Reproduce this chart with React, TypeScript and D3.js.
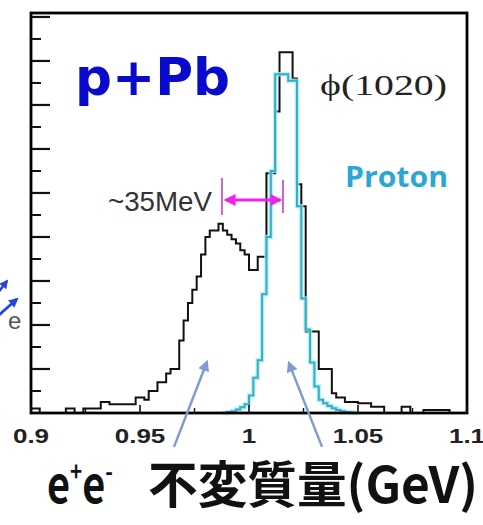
import React from "react";
import * as d3 from "d3";

// Invariant-mass histogram, 2 MeV bins from 0.9 to 1.1 GeV
const massMin = 0.9;
const massMax = 1.1;
const binWidth = 0.002;

// p+Pb e+e- counts per bin (100 bins)
const pPbCounts = [
  1, 1, 0, 0, 0, 0, 0, 0, 1, 1,
  0, 0, 1, 1, 1, 1, 2.5, 2.5, 2, 2,
  2, 2, 2, 2, 3.5, 3.5, 3, 5, 5, 7,
  7, 9, 10, 10, 16.5, 21, 25, 28, 31, 36,
  40, 41.5, 41.5, 43, 41.5, 40.5, 39.5, 38.5, 37, 36,
  32.5, 32.5, 35.5, 35.5, 54.5, 54.5, 68.5, 82, 82, 82,
  76, 52, 47, 18.5, 18.5, 18.5, 10, 10, 10, 4.5,
  3.5, 3.5, 2.5, 2.5, 2.5, 2.2, 2.2, 2.2, 1.4, 1.4,
  1.4, 0, 0, 0, 0, 1.4, 1.4, 0, 0, 0,
  0.7, 0.7, 0.7, 0.7, 0.7, 0.7, 0, 0, 0, 0,
];

// proton-reference phi(1020) shape, starting at bin index 44
const protonFirstBin = 44;
const protonCounts = [
  0, 0.2, 0.4, 0.8, 1.3, 2, 4, 8, 12, 27,
  40, 55, 77, 77, 77, 75.5, 75.5, 47, 26, 19,
  11.5, 6, 3, 2.2, 1.6, 1.1, 0.7, 0.4, 0.2, 0.1, 0,
];

const xTickValues = [0.9, 0.95, 1, 1.05, 1.1];
const xTickLabels = ["0.9", "0.95", "1", "1.05", "1.1"];
const xMinorTicks = [0.925, 0.975, 1.025, 1.075];
const yMajorTicks = [10, 20, 30, 40, 50, 60, 70, 80, 90];
const yMinorTicks = [5, 15, 25, 35, 45, 55, 65, 75, 85];
const yMax = 90.9;

// mass-shift annotation (GeV): nominal peak vs shifted peak
const shiftNominal = 1.0156;
const shiftShifted = 0.9876;
const shiftLevel = 48.4;
const shiftLabel = "~35MeV";

// pointer arrows: [tail mass, tail count, tip mass, tip count]
const pointerArrows = [
  [0.9656, -7.7, 0.9807, 11.6],
  [1.0335, -7.7, 1.0183, 11.4],
];

const W = 483;
const H = 525;
const plot = { left: 31, right: 467, top: 13, bottom: 413 };

function stepPoints(counts: number[], firstBin: number): [number, number][] {
  const pts: [number, number][] = [];
  const start = massMin + firstBin * binWidth;
  pts.push([start, 0]);
  counts.forEach((c, i) => {
    const x0 = start + i * binWidth;
    pts.push([x0, c]);
    pts.push([x0 + binWidth, c]);
  });
  pts.push([start + counts.length * binWidth, 0]);
  return pts;
}

export default function App() {
  const x = d3.scaleLinear().domain([massMin, massMax]).range([plot.left, plot.right]);
  const y = d3.scaleLinear().domain([0, yMax]).range([plot.bottom, plot.top]);
  const line = d3
    .line<[number, number]>()
    .x((d) => x(d[0]))
    .y((d) => y(d[1]));

  const pPbPath = line(stepPoints(pPbCounts, 0)) || "";
  const protonPath = line(stepPoints(protonCounts, protonFirstBin)) || "";

  const xs = x(shiftShifted);
  const xn = x(shiftNominal);
  const ys = y(shiftLevel);

  return (
    <svg
      width={W}
      height={H}
      viewBox={`0 0 ${W} ${H}`}
      style={{ position: "absolute", left: 0, top: 0, background: "#fff" }}
    >
      <defs>
        <marker id="headMag" viewBox="0 0 10 10" refX="8" refY="5" markerWidth="4" markerHeight="4" orient="auto-start-reverse">
          <path d="M0,0 L10,5 L0,10 z" fill="#ee22ee" />
        </marker>
        <marker id="headBlue" viewBox="0 0 10 10" refX="8" refY="5" markerWidth="4.5" markerHeight="4.5" orient="auto">
          <path d="M0,0 L10,5 L0,10 z" fill="#7f9ccc" />
        </marker>
        <marker id="headSide" viewBox="0 0 10 10" refX="8" refY="5" markerWidth="3.5" markerHeight="3.5" orient="auto">
          <path d="M0,0 L10,5 L0,10 z" fill="#2446dd" />
        </marker>
      </defs>

      {/* histograms */}
      <path d={pPbPath} fill="none" stroke="#111" strokeWidth={2} />
      <path d={protonPath} fill="none" stroke="#aeeaf2" strokeWidth={4.5} strokeOpacity={0.8} />
      <path d={protonPath} fill="none" stroke="#2fb0c4" strokeWidth={2} />

      {/* frame */}
      <rect
        x={plot.left}
        y={plot.top}
        width={plot.right - plot.left}
        height={plot.bottom - plot.top}
        fill="none"
        stroke="#000"
        strokeWidth={2.8}
      />

      {/* y ticks */}
      {yMajorTicks.map((v) => (
        <line key={"ym" + v} x1={plot.left} x2={plot.left + 19} y1={y(v)} y2={y(v)} stroke="#111" strokeWidth={2.2} />
      ))}
      {yMinorTicks.map((v) => (
        <line key={"yn" + v} x1={plot.left} x2={plot.left + 10} y1={y(v)} y2={y(v)} stroke="#111" strokeWidth={2} />
      ))}

      {/* x ticks */}
      {xTickValues.map((v) => (
        <line key={"xm" + v} x1={x(v)} x2={x(v)} y1={plot.bottom} y2={plot.bottom - 8} stroke="#111" strokeWidth={1.6} />
      ))}
      {xMinorTicks.map((v) => (
        <line key={"xn" + v} x1={x(v)} x2={x(v)} y1={plot.bottom} y2={plot.bottom - 5} stroke="#111" strokeWidth={1.4} />
      ))}
      {xTickValues.map((v, i) => (
        <text
          key={"xl" + v}
          transform={`translate(${x(v)},${plot.bottom + 30}) scale(1.3,1)`}
          textAnchor="middle"
          fontFamily="Liberation Sans, Arial, sans-serif"
          fontWeight="bold"
          fontSize={20}
          fill="#222"
        >
          {xTickLabels[i]}
        </text>
      ))}

      {/* labels inside the plot */}
      <text x={75} y={95} fontFamily="DejaVu Sans, sans-serif" fontWeight="bold" fontSize={52} fill="#0a0acc" textLength={155} lengthAdjust="spacingAndGlyphs">
        p+Pb
      </text>
      <text x={320} y={95} fontFamily="Liberation Serif, serif" fontSize={30} fill="#222" textLength={127} lengthAdjust="spacingAndGlyphs">
        ϕ(1020)
      </text>
      <text x={345} y={187} fontFamily="Open Sans, sans-serif" fontWeight="bold" fontSize={29} fill="#2ba6d6" textLength={103} lengthAdjust="spacingAndGlyphs">
        Proton
      </text>

      {/* mass shift marker */}
      <line x1={xs} x2={xs} y1={ys - 22} y2={ys + 15} stroke="#cc66cc" strokeWidth={2} />
      <line x1={xn} x2={xn} y1={ys - 20} y2={ys + 13} stroke="#cc66cc" strokeWidth={2} />
      <line
        x1={xn - 3}
        x2={xs + 4}
        y1={ys}
        y2={ys}
        stroke="#ee22ee"
        strokeWidth={3}
        markerStart="url(#headMag)"
        markerEnd="url(#headMag)"
      />
      <text x={xs - 10} y={ys + 11} textAnchor="end" fontFamily="Liberation Sans, Arial, sans-serif" fontSize={27} fill="#333" textLength={104} lengthAdjust="spacingAndGlyphs">
        {shiftLabel}
      </text>

      {/* pointer arrows */}
      {pointerArrows.map((a, i) => (
        <line
          key={"pa" + i}
          x1={x(a[0])}
          y1={y(a[1])}
          x2={x(a[2])}
          y2={y(a[3])}
          stroke="#7f9ccc"
          strokeWidth={2.5}
          markerEnd="url(#headBlue)"
        />
      ))}

      {/* partial diagram at the left edge */}
      <line x1={-3} y1={294} x2={7} y2={281} stroke="#2446dd" strokeWidth={2.5} markerEnd="url(#headSide)" />
      <line x1={-1} y1={315} x2={17} y2={299} stroke="#2446dd" strokeWidth={2.8} markerEnd="url(#headSide)" />
      <text x={8} y={329} fontFamily="Liberation Sans, Arial, sans-serif" fontSize={24} fill="#555">
        e
      </text>

      {/* axis title */}
      <text x={47} y={503} fontFamily="Noto Sans CJK JP, sans-serif" fontWeight="bold" fontSize={50} fill="#111" textLength={66} lengthAdjust="spacingAndGlyphs">
        e
        <tspan fontSize={26} dy={-22}>+</tspan>
        <tspan dy={22}>e</tspan>
        <tspan fontSize={26} dy={-22}>-</tspan>
      </text>
      <text x={148} y={503} fontFamily="Noto Sans CJK JP, sans-serif" fontWeight="bold" fontSize={50} fill="#111" textLength={330} lengthAdjust="spacingAndGlyphs">
        不変質量(GeV)
      </text>
    </svg>
  );
}
